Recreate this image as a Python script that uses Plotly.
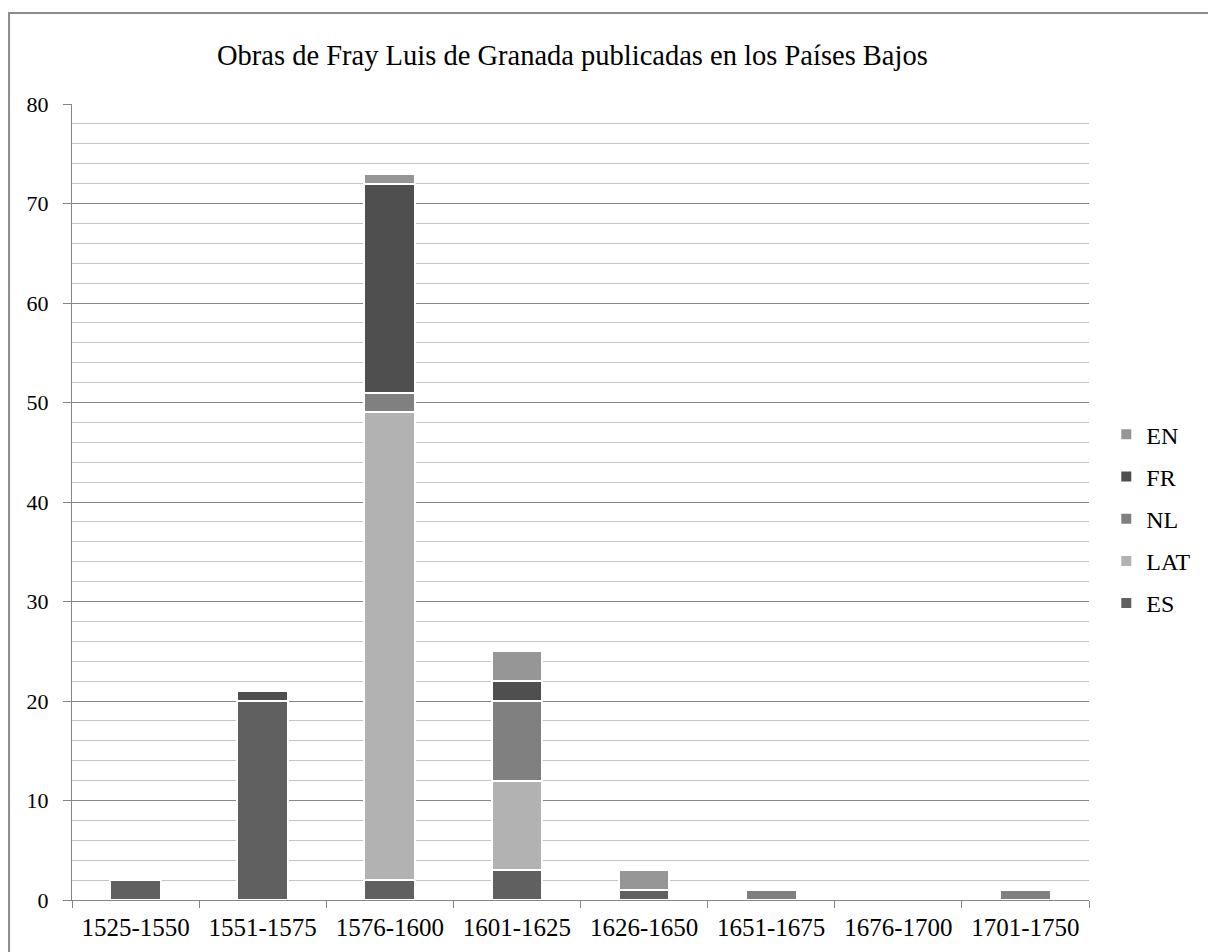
import plotly.graph_objects as go

# Periods and number of editions per language
periods = ["1525-1550", "1551-1575", "1576-1600", "1601-1625",
           "1626-1650", "1651-1675", "1676-1700", "1701-1750"]
es = [2, 20, 2, 3, 1, 0, 0, 0]
lat = [0, 0, 47, 9, 0, 0, 0, 0]
nl = [0, 0, 2, 8, 0, 1, 0, 1]
fr = [0, 1, 21, 2, 0, 0, 0, 0]
en = [0, 0, 1, 3, 2, 0, 0, 0]

# stacking order bottom -> top; legend lists them top -> bottom
series = [
    ("ES", es, "#606060"),
    ("LAT", lat, "#b2b2b2"),
    ("NL", nl, "#808080"),
    ("FR", fr, "#4f4f4f"),
    ("EN", en, "#969696"),
]

serif = "Liberation Serif"

fig = go.Figure()
for i, (name, vals, color) in enumerate(series):
    fig.add_trace(go.Bar(
        x=periods, y=vals, name=name, legendgroup=name,
        legendrank=1000 - i,
        marker=dict(color=color, line=dict(color="white", width=2)),
    ))

fig.update_layout(
    width=1208, height=952,
    barmode="stack", bargap=0.6,
    paper_bgcolor="white", plot_bgcolor="white",
    margin=dict(l=72, r=119, t=104, b=52),
    font=dict(family=serif, size=22, color="black"),
    title=dict(
        text="Obras de Fray Luis de Granada publicadas en los Países Bajos",
        xref="paper", x=0.1426, xanchor="left",
        yref="container", y=0.942, yanchor="middle",
        font=dict(family=serif, size=28.5, color="black"),
    ),
    legend=dict(
        traceorder="grouped", tracegroupgap=8,
        x=1.017, xanchor="left", y=0.479, yanchor="middle",
        font=dict(family=serif, size=24, color="black"),
        itemwidth=30,
    ),
    showlegend=True,
)

fig.update_xaxes(
    showgrid=False, showline=True, linecolor="#868686", linewidth=1,
    ticks="outside", tickson="boundaries", ticklen=7, tickcolor="#868686",
    tickfont=dict(family=serif, size=25, color="black"), ticklabelstandoff=5,
)
fig.update_yaxes(
    range=[0, 80], dtick=10, showline=True, linecolor="#868686", linewidth=1,
    ticks="outside", ticklen=8, tickcolor="#868686",
    gridcolor="#868686", gridwidth=1, zeroline=False,
    minor=dict(dtick=2, showgrid=True, gridcolor="#c4c4c4", gridwidth=1),
    tickfont=dict(family=serif, size=22, color="black"), ticklabelstandoff=10,
)

# Outer frame of the chart area
fig.add_shape(type="rect", xref="paper", yref="paper",
              x0=-0.0619, x1=1.121, y0=-0.069, y1=1.1143,
              line=dict(color="#8c8c8c", width=2))

fig.write_html("out.html")
